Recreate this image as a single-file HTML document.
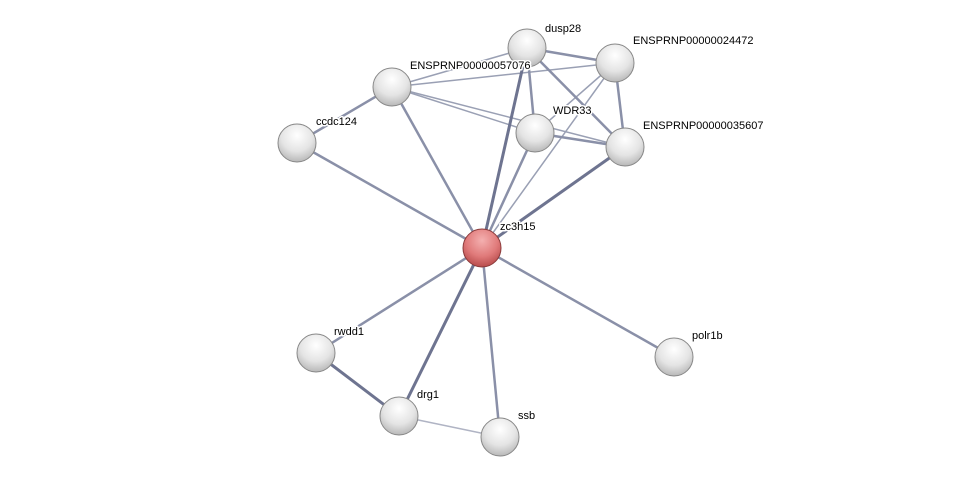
<!DOCTYPE html>
<html><head><style>body{margin:0;background:#fff}svg{display:block}text{font-family:"Liberation Sans",sans-serif;font-size:11px;fill:#000;stroke:#fff;stroke-width:3px;paint-order:stroke;stroke-linejoin:round}</style></head><body>
<svg width="976" height="482" viewBox="0 0 976 482">
<defs>
<radialGradient id="g" cx="0.5" cy="0.3" r="0.7"><stop offset="0" stop-color="#ffffff"/><stop offset="0.6" stop-color="#e4e4e4"/><stop offset="1" stop-color="#b8b8b8"/></radialGradient>
<radialGradient id="r" cx="0.5" cy="0.3" r="0.7"><stop offset="0" stop-color="#f4b0b0"/><stop offset="0.6" stop-color="#e07a7a"/><stop offset="1" stop-color="#b84c4c"/></radialGradient>
</defs>
<g stroke-linecap="round">
<g stroke="#9aa0b4" stroke-width="1.5">
<line x1="392" y1="87" x2="527" y2="48"/><line x1="392" y1="87" x2="615" y2="63"/><line x1="392" y1="87" x2="535" y2="133"/><line x1="392" y1="87" x2="625" y2="147"/>
<line x1="615" y1="63" x2="482" y2="248"/><line x1="615" y1="63" x2="535" y2="133"/>
<line x1="500" y1="437" x2="399" y2="416" stroke="#b0b4c4"/>
</g>
<g stroke="#8a90a8" stroke-width="2.5">
<line x1="297" y1="143" x2="482" y2="248"/><line x1="392" y1="87" x2="482" y2="248"/><line x1="297" y1="143" x2="392" y2="87"/>
<line x1="535" y1="133" x2="482" y2="248"/><line x1="527" y1="48" x2="615" y2="63"/><line x1="527" y1="48" x2="535" y2="133"/>
<line x1="527" y1="48" x2="625" y2="147"/><line x1="615" y1="63" x2="625" y2="147"/><line x1="535" y1="133" x2="625" y2="147"/>
<line x1="316" y1="353" x2="482" y2="248"/><line x1="674" y1="357" x2="482" y2="248"/><line x1="500" y1="437" x2="482" y2="248"/>
</g>
<g stroke="#6e7490" stroke-width="3">
<line x1="527" y1="48" x2="482" y2="248"/><line x1="625" y1="147" x2="482" y2="248"/><line x1="399" y1="416" x2="482" y2="248"/><line x1="316" y1="353" x2="399" y2="416"/>
</g>
</g>
<g stroke="#888" stroke-width="1">
<circle cx="527" cy="48" r="19" fill="url(#g)"/><circle cx="615" cy="63" r="19" fill="url(#g)"/><circle cx="392" cy="87" r="19" fill="url(#g)"/>
<circle cx="297" cy="143" r="19" fill="url(#g)"/><circle cx="535" cy="133" r="19" fill="url(#g)"/><circle cx="625" cy="147" r="19" fill="url(#g)"/>
<circle cx="482" cy="248" r="19" fill="url(#r)" stroke="#8a3a3a"/>
<circle cx="316" cy="353" r="19" fill="url(#g)"/><circle cx="674" cy="357" r="19" fill="url(#g)"/>
<circle cx="399" cy="416" r="19" fill="url(#g)"/><circle cx="500" cy="437" r="19" fill="url(#g)"/>
</g>
<text x="545" y="32">dusp28</text>
<text x="633" y="44">ENSPRNP00000024472</text>
<text x="410" y="69">ENSPRNP00000057076</text>
<text x="316" y="125">ccdc124</text>
<text x="553" y="114">WDR33</text>
<text x="643" y="129">ENSPRNP00000035607</text>
<text x="500" y="230">zc3h15</text>
<text x="334" y="335">rwdd1</text>
<text x="692" y="339">polr1b</text>
<text x="417" y="398">drg1</text>
<text x="518" y="419">ssb</text>
</svg>
</body></html>
